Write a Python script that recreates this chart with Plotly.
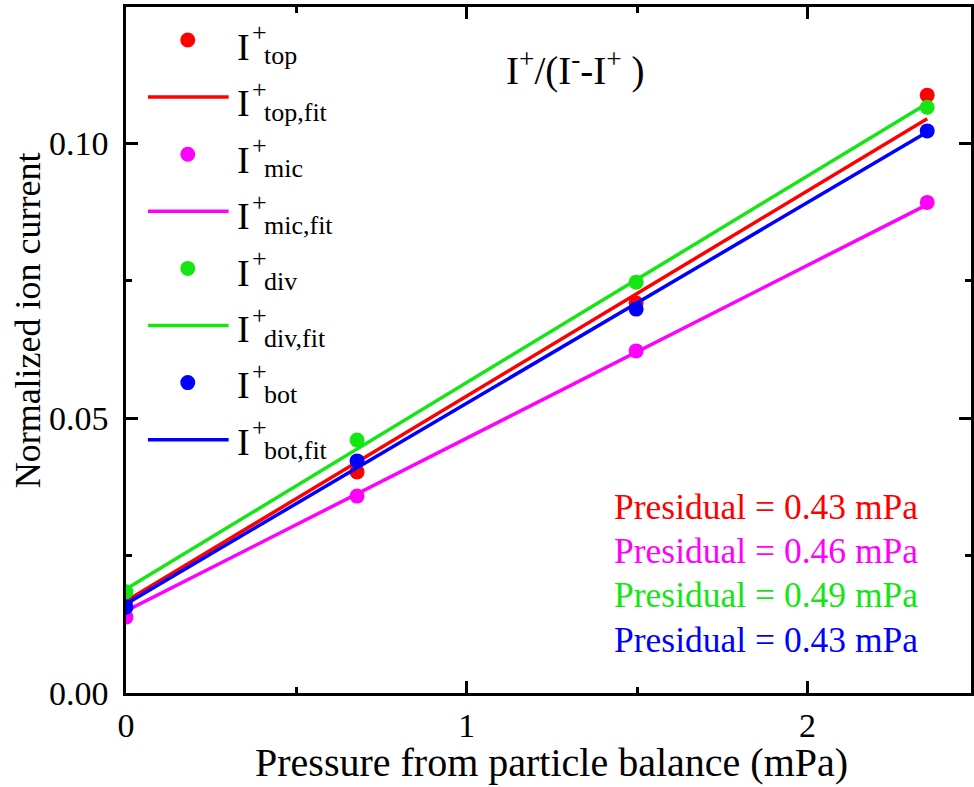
import plotly.graph_objects as go

# ---------------- data ----------------
pressure = [0.0, 0.678, 1.497, 2.351]
i_top = [0.0169, 0.0402, 0.0709, 0.1087]
i_mic = [0.0138, 0.0358, 0.0622, 0.0892]
i_div = [0.0184, 0.0460, 0.0747, 0.1065]
i_bot = [0.0156, 0.0422, 0.0698, 0.1022]

fit_x = [0.0, 2.351]
top_fit = [0.0167, 0.1044]
mic_fit = [0.0149, 0.0888]
div_fit = [0.0189, 0.1072]
bot_fit = [0.0162, 0.1020]

series_names = ["top", "mic", "div", "bot"]
residuals = ["0.43", "0.46", "0.49", "0.43"]
x_ticks = [0, 1, 2]
y_ticks = [0.0, 0.05, 0.10]
y_tick_labels = ["0.00", "0.05", "0.10"]

RED, MAG, GRN, BLU = "#ff0000", "#ff00ff", "#14e614", "#0000ff"
colors = [RED, MAG, GRN, BLU]
points = [i_top, i_mic, i_div, i_bot]
fits = [top_fit, mic_fit, div_fit, bot_fit]

FONT = "Liberation Serif, Times New Roman, serif"

# plot-area geometry (pixels)
L, R, T, B = 126, 974, 7, 693
W, H = 974, 787


def px(x):
    return (x - L) / (R - L)


def py(y):
    return (B - y) / (B - T)


fig = go.Figure()
for name, c, pts, ft in zip(series_names, colors, points, fits):
    fig.add_trace(go.Scatter(x=pressure, y=pts, mode="markers", name=name,
                             marker=dict(color=c, size=15, line=dict(width=0)),
                             showlegend=False))
    fig.add_trace(go.Scatter(x=fit_x, y=ft, mode="lines", name=name + ",fit",
                             line=dict(color=c, width=3.5), showlegend=False))

shapes = []
annotations = []

# ---- manual legend (stacked super/subscripts like the original) ----
legend_labels = []
for n, c in zip(series_names, colors):
    legend_labels.append((n, c, "marker"))
    legend_labels.append((n + ",fit", c, "line"))

for k, (lab, c, kind) in enumerate(legend_labels):
    key_y = 40 + 57.1 * k
    if kind == "marker":
        shapes.append(dict(type="circle", xref="paper", yref="paper",
                           xsizemode="pixel", ysizemode="pixel",
                           xanchor=px(188), yanchor=py(key_y),
                           x0=-7.5, x1=7.5, y0=-7.5, y1=7.5,
                           fillcolor=c, line=dict(width=0)))
    else:
        shapes.append(dict(type="line", xref="paper", yref="paper",
                           x0=px(148), x1=px(229), y0=py(key_y), y1=py(key_y),
                           line=dict(color=c, width=3.5)))
    text_y = 47 + 56.4 * k
    annotations.append(dict(xref="paper", yref="paper", x=px(235), y=py(text_y),
                            xanchor="left", yanchor="middle", showarrow=False,
                            text="I", font=dict(family=FONT, size=38, color="black")))
    annotations.append(dict(xref="paper", yref="paper", x=px(250), y=py(text_y - 14),
                            xanchor="left", yanchor="middle", showarrow=False,
                            text="+", font=dict(family=FONT, size=26, color="black")))
    annotations.append(dict(xref="paper", yref="paper", x=px(262), y=py(text_y + 9),
                            xanchor="left", yanchor="middle", showarrow=False,
                            text=lab, font=dict(family=FONT, size=26, color="black")))

# ---- title inside plot ----
annotations.append(dict(xref="paper", yref="paper", x=px(577), y=py(68),
                        xanchor="center", yanchor="middle", showarrow=False,
                        text="I<sup>+</sup>/(I<sup>-</sup>-I<sup>+</sup> )",
                        font=dict(family=FONT, size=39, color="black")))

# ---- residual pressure texts ----
for k, (c, r) in enumerate(zip(colors, residuals)):
    annotations.append(dict(xref="paper", yref="paper", x=px(923), y=py(507 + 44.2 * k),
                            xanchor="right", yanchor="middle", showarrow=False,
                            text=f"Presidual = {r} mPa",
                            font=dict(family=FONT, size=35.5, color=c)))

# ---- axis titles ----
annotations.append(dict(xref="paper", yref="paper", x=px(553), y=py(762),
                        xanchor="center", yanchor="middle", showarrow=False,
                        text="Pressure from particle balance (mPa)",
                        font=dict(family=FONT, size=40, color="black")))
annotations.append(dict(xref="paper", yref="paper", x=px(28), y=py(320),
                        xanchor="center", yanchor="middle", showarrow=False,
                        textangle=-90, text="Normalized ion current",
                        font=dict(family=FONT, size=36, color="black")))

axis_common = dict(showline=True, linewidth=2.5, linecolor="black", mirror="ticks",
                   ticks="inside", ticklen=12, tickwidth=2.5, tickcolor="black",
                   showgrid=False, zeroline=False,
                   tickfont=dict(family=FONT, size=34, color="black"))

fig.update_xaxes(range=[0, (R - L) / 342.0], tickvals=x_ticks,
                 ticktext=[str(v) for v in x_ticks], ticklabelstandoff=0,
                 minor=dict(dtick=0.5, tick0=0, ticks="inside", ticklen=6,
                            tickwidth=2.5, tickcolor="black", showgrid=False),
                 **axis_common)
fig.update_yaxes(range=[0, (B - T) / 5500.0], tickvals=y_ticks, ticktext=y_tick_labels,
                 ticklabelstandoff=8,
                 minor=dict(dtick=0.025, tick0=0, ticks="inside", ticklen=6,
                            tickwidth=2.5, tickcolor="black", showgrid=False),
                 **axis_common)

fig.update_layout(width=W, height=H, margin=dict(l=L, r=W - R, t=T, b=H - B),
                  plot_bgcolor="white", paper_bgcolor="white",
                  shapes=shapes, annotations=annotations, showlegend=False)

fig.write_html("out.html", config={"displayModeBar": False},
               post_script="document.body.style.margin='0';"
                           "document.body.style.overflow='hidden';")
